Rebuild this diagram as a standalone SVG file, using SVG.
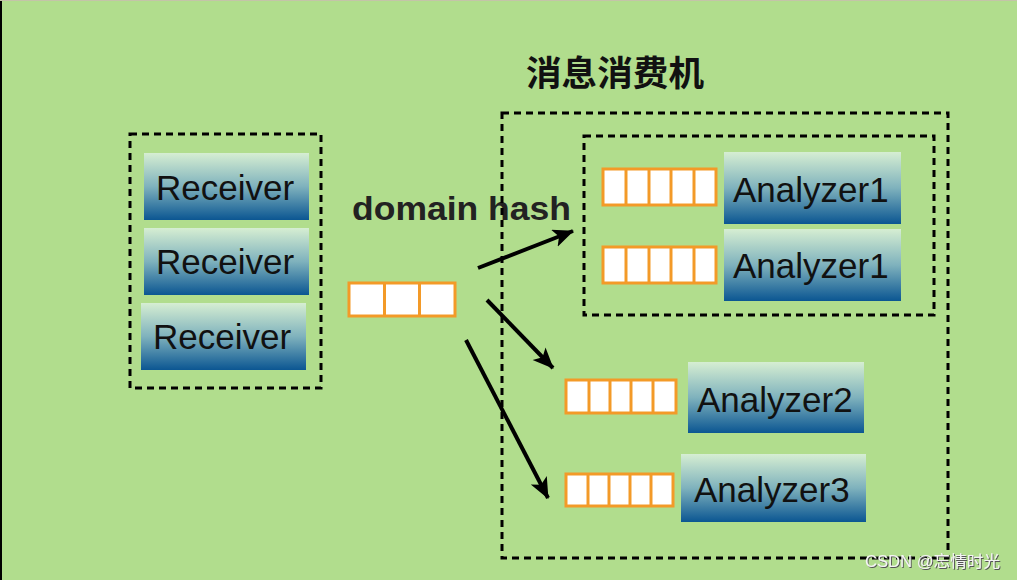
<svg xmlns="http://www.w3.org/2000/svg" width="1017" height="580" viewBox="0 0 1017 580">
<defs>
<linearGradient id="g" x1="0" y1="0" x2="0" y2="1">
<stop offset="0" stop-color="#d6eed2"/>
<stop offset="0.5" stop-color="#7fb2bd"/>
<stop offset="1" stop-color="#0b5692"/>
</linearGradient>
<filter id="sh" x="-5%" y="-20%" width="110%" height="140%">
<feDropShadow dx="1" dy="1" stdDeviation="0.4" flood-color="#555"/>
</filter>
<marker id="ah" markerUnits="userSpaceOnUse" markerWidth="24" markerHeight="20" refX="20" refY="9" orient="auto">
<path d="M0,0 L21,9 L0,18 L5,9 Z" fill="#000"/>
</marker>
<style>
.dash{fill:none;stroke:#000;stroke-width:3;stroke-dasharray:7 5}
.box{fill:url(#g)}
.lbl{font-family:"Liberation Sans",Arial,sans-serif;font-size:35px;fill:#111}
.q{fill:#fff;stroke:#f39a28;stroke-width:3}
.qd{stroke:#f39a28;stroke-width:3}
.arr{stroke:#000;stroke-width:4;fill:none;marker-end:url(#ah)}
</style>
</defs>
<rect width="1017" height="580" fill="#b1dd8d"/>
<rect x="0" y="0" width="2" height="580" fill="#000"/>
<rect x="0" y="0" width="1017" height="1" fill="#c4c4a8"/>

<g id="title">
<text x="526" y="86" font-family="'Noto Sans CJK SC',sans-serif" font-size="35" font-weight="bold" fill="#111" textLength="178" lengthAdjust="spacingAndGlyphs">消息消费机</text>
</g>

<g id="receiver-group">
<rect class="dash" x="130" y="134" width="191" height="254"/>
</g>
<g id="receiver1"><rect class="box" x="144" y="153" width="165" height="67"/><text class="lbl" x="156" y="200">Receiver</text></g>
<g id="receiver2"><rect class="box" x="144" y="228" width="165" height="67"/><text class="lbl" x="156" y="274">Receiver</text></g>
<g id="receiver3"><rect class="box" x="141" y="303" width="165" height="67"/><text class="lbl" x="153" y="349">Receiver</text></g>

<g id="domain-hash">
<text x="352" y="220" font-family="'Liberation Sans',Arial,sans-serif" font-size="33" font-weight="bold" fill="#222" textLength="219" lengthAdjust="spacingAndGlyphs">domain hash</text>
</g>

<g id="queue-main">
<rect class="q" x="349" y="283" width="106" height="33"/>
<line class="qd" x1="384.5" y1="283" x2="384.5" y2="316"/>
<line class="qd" x1="419.5" y1="283" x2="419.5" y2="316"/>
</g>

<g id="consumer-machine">
<rect class="dash" x="502" y="113" width="446" height="445"/>
<rect class="dash" x="584" y="136" width="350" height="179"/>
</g>

<g id="analyzer1a">
<rect class="q" x="603" y="169" width="113" height="36"/>
<line class="qd" x1="626" y1="169" x2="626" y2="205"/><line class="qd" x1="649" y1="169" x2="649" y2="205"/><line class="qd" x1="671" y1="169" x2="671" y2="205"/><line class="qd" x1="694" y1="169" x2="694" y2="205"/>
<rect class="box" x="724" y="152" width="177" height="72"/>
<text class="lbl" x="733" y="202">Analyzer1</text>
</g>
<g id="analyzer1b">
<rect class="q" x="603" y="247" width="113" height="36"/>
<line class="qd" x1="626" y1="247" x2="626" y2="283"/><line class="qd" x1="649" y1="247" x2="649" y2="283"/><line class="qd" x1="671" y1="247" x2="671" y2="283"/><line class="qd" x1="694" y1="247" x2="694" y2="283"/>
<rect class="box" x="724" y="229" width="177" height="72"/>
<text class="lbl" x="733" y="278">Analyzer1</text>
</g>
<g id="analyzer2">
<rect class="q" x="566" y="380" width="110" height="33"/>
<line class="qd" x1="589" y1="380" x2="589" y2="413"/><line class="qd" x1="610" y1="380" x2="610" y2="413"/><line class="qd" x1="631" y1="380" x2="631" y2="413"/><line class="qd" x1="653" y1="380" x2="653" y2="413"/>
<rect class="box" x="688" y="362" width="176" height="71"/>
<text class="lbl" x="697" y="412">Analyzer2</text>
</g>
<g id="analyzer3">
<rect class="q" x="566" y="474" width="107" height="32"/>
<line class="qd" x1="588" y1="474" x2="588" y2="506"/><line class="qd" x1="609" y1="474" x2="609" y2="506"/><line class="qd" x1="630" y1="474" x2="630" y2="506"/><line class="qd" x1="651" y1="474" x2="651" y2="506"/>
<rect class="box" x="681" y="454" width="185" height="68"/>
<text class="lbl" x="694" y="502">Analyzer3</text>
</g>

<g id="connectors">
<line class="arr" x1="478" y1="268" x2="573" y2="231"/>
<line class="arr" x1="487" y1="300" x2="553" y2="368"/>
<line class="arr" x1="466" y1="340" x2="548" y2="498"/>
</g>

<g id="watermark">
<text x="865" y="567" font-family="'Liberation Sans','Noto Sans CJK SC',sans-serif" font-size="16" fill="#f4f4f4" filter="url(#sh)" textLength="135" lengthAdjust="spacingAndGlyphs">CSDN @忘情时光</text>
</g>
</svg>
